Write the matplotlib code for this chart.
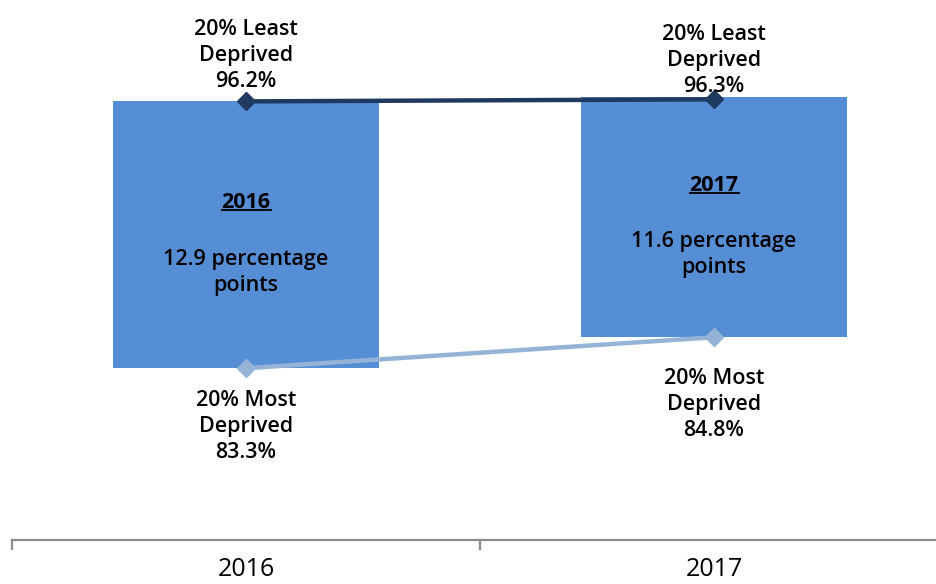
import matplotlib
matplotlib.use("Agg")
import matplotlib.pyplot as plt
from matplotlib.ticker import FixedLocator, NullFormatter

plt.rcParams['font.family'] = ['Open Sans', 'DejaVu Sans']

# Data
years = ["2016", "2017"]
least_deprived = [96.2, 96.3]   # 20% least deprived
most_deprived = [83.3, 84.8]    # 20% most deprived
gap_points = [12.9, 11.6]       # gap in percentage points

bar_color = "#558ED5"
least_color = "#1F3A60"
most_color = "#95B3D7"
axis_color = "#8C8C8C"
FS = 15.5
WEIGHT = "semibold"
LS = 1.31

fig = plt.figure(figsize=(9.36, 5.84), dpi=100)
ax = fig.add_axes([12 / 936, 44 / 584, 1.0, 540 / 584])

x = list(range(len(years)))

# Floating bars spanning the gap between the two groups
ax.bar(x, gap_points, bottom=most_deprived, width=0.57, color=bar_color,
       zorder=1)

# Connecting lines with diamond markers
ax.plot(x, least_deprived, color=least_color, lw=3.2, marker="D", ms=9,
        zorder=3, solid_capstyle="butt")
ax.plot(x, most_deprived, color=most_color, lw=3.2, marker="D", ms=9,
        zorder=3, solid_capstyle="butt")

ax.set_xlim(-0.5, 1.5)
ax.set_ylim(75, 101.1)

# Point labels
least_offsets = [7, 1.5]
for i in x:
    ax.annotate(f"20% Least\nDeprived\n{least_deprived[i]:.1f}%",
                (i, least_deprived[i]), xytext=(0, least_offsets[i]),
                textcoords="offset points",
                ha="center", va="bottom", fontsize=FS, fontweight=WEIGHT,
                linespacing=LS, zorder=4)
most_offsets = [-16, -22]
for i in x:
    ax.annotate(f"20% Most\nDeprived\n{most_deprived[i]:.1f}%",
                (i, most_deprived[i]), xytext=(0, most_offsets[i]),
                textcoords="offset points",
                ha="center", va="top", fontsize=FS, fontweight=WEIGHT,
                linespacing=LS, zorder=4)

# Text inside the bars: underlined bold year plus the gap
year_texts = []
for i in x:
    mid = most_deprived[i] + gap_points[i] / 2
    t = ax.annotate(years[i], (i, mid), xytext=(0, 23), textcoords="offset points",
                    ha="center", va="center", fontsize=FS, fontweight="bold",
                    zorder=4)
    year_texts.append(t)
    ax.annotate(f"{gap_points[i]:.1f} percentage\npoints", (i, mid),
                xytext=(0, -27), textcoords="offset points",
                ha="center", va="center", fontsize=FS, fontweight=WEIGHT,
                linespacing=LS, zorder=4)

# Category axis styling
for side in ("left", "right", "top"):
    ax.spines[side].set_visible(False)
ax.spines["bottom"].set_color(axis_color)
ax.spines["bottom"].set_linewidth(1.6)
ax.set_yticks([])
ax.set_xticks(x)
ax.set_xticklabels(years, fontsize=18)
ax.tick_params(axis="x", which="major", length=0, pad=12.5)
ax.xaxis.set_minor_locator(FixedLocator([-0.5, 0.5, 1.5]))
ax.xaxis.set_minor_formatter(NullFormatter())
ax.tick_params(axis="x", which="minor", length=7, width=1.6, color=axis_color,
               direction="out")
ax.patch.set_alpha(0)

# Underline the years inside the bars
fig.canvas.draw()
renderer = fig.canvas.get_renderer()
inv = fig.transFigure.inverted()
for t in year_texts:
    bb = t.get_window_extent(renderer)
    (x0, y0), (x1, _) = inv.transform([(bb.x0, bb.y0), (bb.x1, bb.y1)])
    y_line = y0 + 3 / 584
    fig.add_artist(plt.Line2D([x0, x1], [y_line, y_line], color="black",
                              lw=1.3, transform=fig.transFigure))

fig.savefig("out.png", dpi=100)
